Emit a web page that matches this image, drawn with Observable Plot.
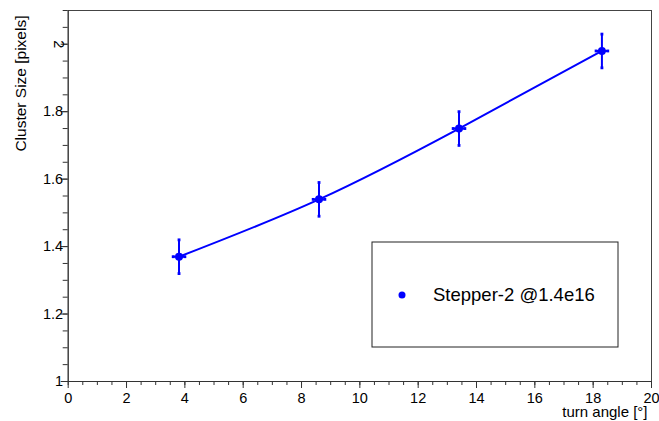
<!DOCTYPE html>
<html>
<head>
<meta charset="utf-8">
<script src="https://cdn.jsdelivr.net/npm/d3@7"></script>
<script src="https://cdn.jsdelivr.net/npm/@observablehq/plot@0.6"></script>
<style>
  html, body { margin: 0; padding: 0; background: #fff; }
  #chart svg { display: block; background: linear-gradient(to right, #fdf8ea 0px, #fdf8ea 10px, #ffffff 10px); }
</style>
</head>
<body>
<div id="chart"></div>
<script>
const angle = [3.8, 8.6, 13.4, 18.3];
const clusterSize = [1.37, 1.54, 1.75, 1.98];
const angleErr = [0.2, 0.2, 0.2, 0.2];
const sizeErr = [0.05, 0.05, 0.05, 0.05];
const seriesName = "Stepper-2 @1.4e16";
const xTitle = "turn angle [°]";
const yTitle = "Cluster Size [pixels]";
const xMajor = d3.range(0, 20.01, 2);
const xMinor = d3.range(0, 20.01, 0.5);
const yMajor = [1, 1.2, 1.4, 1.6, 1.8, 2];
const yMinor = d3.range(1, 2.1001, 0.05).map(v => +v.toFixed(2));

const data = angle.map((a, i) => ({x: a, y: clusterSize[i], ex: angleErr[i], ey: sizeErr[i]}));
const blue = "#0000ff";
const font = "Liberation Sans, Arial, Helvetica, sans-serif";

const W = 659, H = 421;
const plot = Plot.plot({
  width: W, height: H,
  marginLeft: 67.7, marginRight: 8, marginTop: 10, marginBottom: 40,
  x: {domain: [0, 20], label: null},
  y: {domain: [1, 2.1], label: null},
  style: {fontFamily: font, fontSize: "14px", color: "#000", background: "transparent"},
  marks: [
    Plot.frame({stroke: "#444", strokeWidth: 1}),
    // x ticks
    Plot.axisX({ticks: xMinor, tickSize: 4, tickFormat: () => "", stroke: "#333", label: null}),
    Plot.axisX({ticks: xMajor, tickSize: 7, tickFormat: () => "", stroke: "#333", label: null}),
    Plot.axisX({ticks: xMajor, tickSize: 0, tickPadding: 11, tickFormat: d => String(d), fill: "#000", fontSize: 14.5, label: null}),
    // y ticks
    Plot.axisY({ticks: yMinor, tickSize: 5, tickFormat: () => "", stroke: "#333", label: null}),
    Plot.axisY({ticks: yMajor, tickSize: 7, tickFormat: () => "", stroke: "#333", label: null}),
    Plot.axisY({ticks: yMajor.filter(v => v !== 2), tickSize: 0, tickPadding: 5, tickFormat: d => String(d), fill: "#000", fontSize: 14.5, label: null}),
    Plot.text([2], {x: 0, y: d => d, text: d => String(d), rotate: 90, dx: -10, fontSize: 14.5, fill: "#000"}),
    Plot.ruleY([1], {stroke: "#333"}),
    Plot.ruleX([0], {stroke: "#333"}),
    // curve
    Plot.line(data, {x: "x", y: "y", curve: "natural", stroke: blue, strokeWidth: 2}),
    // error bars
    Plot.ruleX(data, {x: "x", y1: d => d.y - d.ey, y2: d => d.y + d.ey, stroke: blue, strokeWidth: 2}),
    Plot.ruleY(data, {y: "y", x1: d => d.x - d.ex, x2: d => d.x + d.ex, stroke: blue, strokeWidth: 2}),
    Plot.dot(data.flatMap(d => [{x: d.x, y: d.y - d.ey}, {x: d.x, y: d.y + d.ey}, {x: d.x - d.ex, y: d.y}, {x: d.x + d.ex, y: d.y}]),
      {x: "x", y: "y", r: 1.6, symbol: "square", fill: blue}),
    Plot.dot(data, {x: "x", y: "y", r: 4, fill: blue}),
    // titles
    Plot.text([xTitle], {frameAnchor: "bottom-right", text: d => d, dx: -4, dy: 31, textAnchor: "end", fontSize: 15, fill: "#000", lineAnchor: "middle"}),
    Plot.text([yTitle], {frameAnchor: "top-left", text: d => d, rotate: -90, dx: -47, dy: 5, textAnchor: "end", lineAnchor: "middle", fontSize: 15.5, fill: "#000"})
  ]
});

// legend box
const svg = d3.select(plot);
const g = svg.append("g").attr("text-anchor", "start");
g.append("rect").attr("x", 372).attr("y", 242).attr("width", 246).attr("height", 105)
  .attr("fill", "#fff").attr("stroke", "#222").attr("stroke-width", 1);
g.append("circle").attr("cx", 402).attr("cy", 295).attr("r", 3.5).attr("fill", blue);
g.append("text").attr("x", 433).attr("y", 295).attr("dy", "0.35em").attr("text-anchor", "start")
  .attr("font-family", font).attr("font-size", 18.5).attr("fill", "#000").text(seriesName);

document.getElementById("chart").appendChild(plot);
</script>
</body>
</html>
